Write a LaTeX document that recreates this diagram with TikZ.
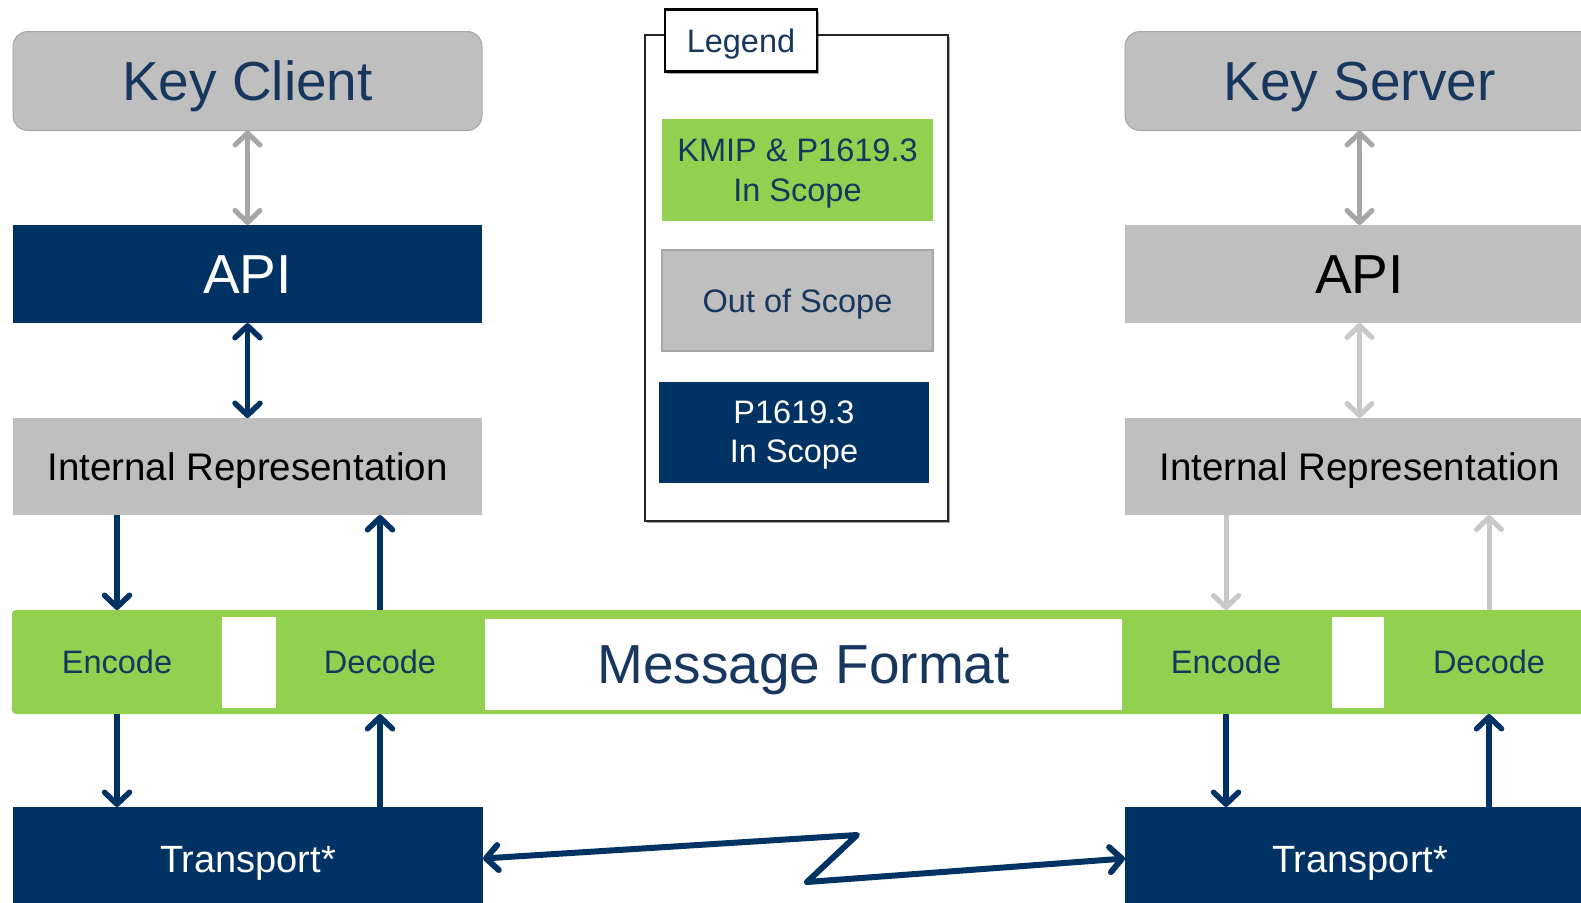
\documentclass[tikz,border=0pt]{standalone}
\usepackage{fontspec}
\setmainfont{Liberation Sans}
\usetikzlibrary{arrows.meta,shadows}
\definecolor{navy}{RGB}{0,50,99}
\definecolor{kgreen}{RGB}{146,208,80}
\definecolor{kgray}{RGB}{191,191,191}
\definecolor{agray}{RGB}{166,166,166}
\definecolor{lgray}{RGB}{200,200,200}
\definecolor{tblue}{RGB}{23,55,94}
\tikzset{barb/.tip={Straight Barb[length=12pt,width=25pt,round]}}
\begin{document}
\begin{tikzpicture}[x=1pt,y=-1pt,
  base/.style={rectangle, inner sep=0pt, outer sep=0pt},
  capc/.style={text height=#1, text depth=0pt},
  big/.style={font=\fontsize{55}{60}\selectfont, capc=39.4pt},
  mid/.style={font=\fontsize{38.5}{44}\selectfont, capc=27.6pt},
  small/.style={font=\fontsize{32.5}{39}\selectfont, capc=23.3pt},
  headbox/.style={base, big, minimum width=469, minimum height=99, rounded corners=15pt, fill=kgray, draw=agray, line width=1pt, text=tblue},
  apibox/.style={base, big, minimum width=469, minimum height=98},
  irbox/.style={base, mid, minimum width=469, minimum height=97, fill=kgray, text=black},
  codelbl/.style={base, small, minimum width=150, minimum height=104, text=tblue},
  gapbox/.style={base, fill=white, minimum height=91},
  trbox/.style={base, font=\fontsize{38}{44}\selectfont, capc=27.2pt, minimum width=470, minimum height=103, fill=navy, text=white},
  navyarrow/.style={draw=navy, line width=5.5pt},
  grayarrow/.style={draw=agray, line width=5pt},
  lightarrow/.style={draw=lgray, line width=5pt},
  legitem/.style={base, align=center, minimum height=101},
  legshadow/.style={drop shadow={shadow xshift=2pt, shadow yshift=-2pt, opacity=0.35, fill=black}}
]
\useasboundingbox (0,0) rectangle (1581,902);
\clip (0,0) rectangle (1581,902);

% message format bar
\node[base, minimum width=1588, minimum height=104, rounded corners=4pt, fill=kgreen] (bar) at (806,662) {};
\node[gapbox, minimum width=54] (gap1) at (249,662.5) {};
\node[gapbox, minimum width=52] (gap2) at (1358,662.5) {};
\node[gapbox, big, minimum width=637, text=tblue] (mf) at (803.5,664) {Message Format};
\node[codelbl] (enc1) at (117,662) {Encode};
\node[codelbl] (dec1) at (380,662) {Decode};
\node[codelbl] (enc2) at (1226,662) {Encode};
\node[codelbl] (dec2) at (1489,662) {Decode};

% client column
\node[headbox] (kc) at (247.5,81) {Key Client};
\node[apibox, fill=navy, text=white] (api1) at (247.5,274) {API};
\node[irbox] (ir1) at (247.5,466.5) {Internal Representation};
\node[trbox] (tr1) at (248,858.5) {Transport*};

% server column
\node[headbox] (ks) at (1359.5,81) {Key Server};
\node[apibox, fill=kgray, text=black] (api2) at (1359.5,274) {API};
\node[irbox] (ir2) at (1359.5,466.5) {Internal Representation};
\node[trbox] (tr2) at (1360,858.5) {Transport*};

% legend
\node[base, legshadow, minimum width=303, minimum height=486, draw=black!85, line width=2pt, fill=white] (leg) at (796.5,278) {};
\node[base, legshadow, small, minimum width=152, minimum height=62, draw=black, line width=2.5pt, fill=white, text=tblue] (legt) at (741,40.5) {Legend};
\node[legitem, minimum width=271, minimum height=102, fill=kgreen, text=tblue, font=\fontsize{32.5}{40}\selectfont, text depth=0pt] (lg1) at (797.5,170) {KMIP \& P1619.3\\In Scope};
\node[legitem, small, minimum width=271, draw=agray, line width=2pt, fill=kgray, text=tblue] (lg2) at (797.5,300.5) {Out of Scope};
\node[legitem, minimum width=270, fill=navy, text=white, font=\fontsize{32.5}{38.8}\selectfont, text depth=0pt] (lg3) at (794,432) {P1619.3\\In Scope};

% client connectors
\draw[grayarrow, barb-barb] (kc.south) -- (api1.north);
\draw[navyarrow, barb-barb] (api1.south) -- (ir1.north);
\draw[navyarrow, -barb] (enc1.north |- ir1.south) -- (enc1.north);
\draw[navyarrow, -barb] (dec1.north) -- (dec1.north |- ir1.south);
\draw[navyarrow, -barb] (enc1.south) -- (enc1.south |- tr1.north);
\draw[navyarrow, -barb] (dec1.south |- tr1.north) -- (dec1.south);

% server connectors
\draw[grayarrow, barb-barb] (ks.south) -- (api2.north);
\draw[lightarrow, barb-barb] (api2.south) -- (ir2.north);
\draw[lightarrow, -barb] (enc2.north |- ir2.south) -- (enc2.north);
\draw[lightarrow, -barb] (dec2.north) -- (dec2.north |- ir2.south);
\draw[navyarrow, -barb] (enc2.south) -- (enc2.south |- tr2.north);
\draw[navyarrow, -barb] (dec2.south |- tr2.north) -- (dec2.south);

% transport link
\coordinate (zA) at (857,835);
\coordinate (zB) at (807,882);
\draw[navyarrow, line width=6pt, line join=round, barb-barb] (tr1.east) -- (zA) -- (zB) -- (tr2.west);
\end{tikzpicture}
\end{document}
